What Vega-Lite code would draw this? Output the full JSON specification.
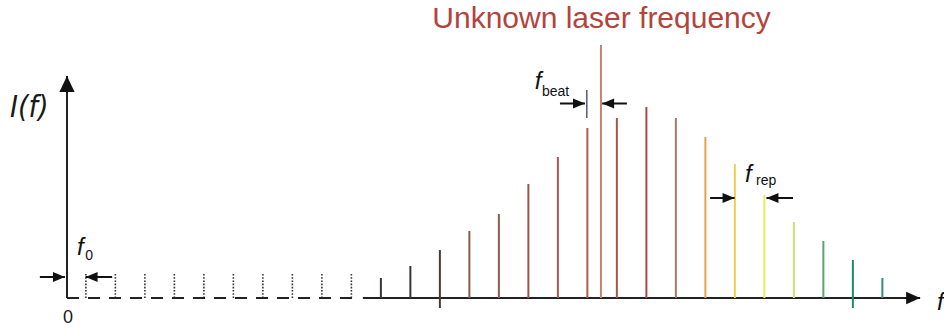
{
  "$schema": "https://vega.github.io/schema/vega-lite/v6.json",
  "width": 944,
  "height": 331,
  "autosize": {"type": "none"},
  "padding": 0,
  "background": "white",
  "config": {"view": {"stroke": null}},
  "datasets": {
    "comb": [
      {"n": 0, "freq": 0.64, "level": 0, "level2": 25},
      {"n": 1, "freq": 1.64, "level": 0, "level2": 25},
      {"n": 2, "freq": 2.64, "level": 0, "level2": 25},
      {"n": 3, "freq": 3.64, "level": 0, "level2": 25},
      {"n": 4, "freq": 4.64, "level": 0, "level2": 25},
      {"n": 5, "freq": 5.64, "level": 0, "level2": 25},
      {"n": 6, "freq": 6.64, "level": 0, "level2": 25},
      {"n": 7, "freq": 7.64, "level": 0, "level2": 25},
      {"n": 8, "freq": 8.64, "level": 0, "level2": 25},
      {"n": 9, "freq": 9.64, "level": 0, "level2": 25},
      {"n": 10, "freq": 10.64, "level": 0, "level2": 20},
      {"n": 11, "freq": 11.64, "level": 0, "level2": 32},
      {"n": 12, "freq": 12.64, "level": -10, "level2": 48},
      {"n": 13, "freq": 13.64, "level": 0, "level2": 67},
      {"n": 14, "freq": 14.64, "level": 0, "level2": 84},
      {"n": 15, "freq": 15.64, "level": 0, "level2": 114},
      {"n": 16, "freq": 16.64, "level": 0, "level2": 141},
      {"n": 17, "freq": 17.64, "level": 0, "level2": 170},
      {"n": 18, "freq": 18.64, "level": 0, "level2": 180},
      {"n": 19, "freq": 19.64, "level": 0, "level2": 191},
      {"n": 20, "freq": 20.64, "level": 0, "level2": 180},
      {"n": 21, "freq": 21.64, "level": 0, "level2": 161},
      {"n": 22, "freq": 22.64, "level": 0, "level2": 134},
      {"n": 23, "freq": 23.64, "level": 0, "level2": 103},
      {"n": 24, "freq": 24.64, "level": 0, "level2": 76},
      {"n": 25, "freq": 25.64, "level": 0, "level2": 57},
      {"n": 26, "freq": 26.64, "level": -10, "level2": 38},
      {"n": 27, "freq": 27.64, "level": 0, "level2": 20}
    ],
    "laser": [
      {"name": "unknown laser", "freq": 18.1, "level": 0, "level2": 253}
    ],
    "axes": [
      {"part": "baseline-dashed", "freq": 0, "freq2": 9.66, "level": 0, "level2": 0},
      {"part": "baseline", "freq": 10.03, "freq2": 28.45, "level": 0, "level2": 0},
      {"part": "intensity", "freq": 0, "freq2": 0, "level": 0, "level2": 208},
      {"part": "beat-marker", "freq": 17.62, "freq2": 17.62, "level": 180, "level2": 208}
    ],
    "arrows": [
      {"id": "f0-in", "dir": "right", "freq": -0.92, "freq2": -0.07, "level": 21, "level2": 21},
      {"id": "f0-out", "dir": "left", "freq": 1.53, "freq2": 0.63, "level": 21, "level2": 21},
      {"id": "beat-in", "dir": "right", "freq": 16.71, "freq2": 17.56, "level": 194.5, "level2": 194.5},
      {"id": "beat-out", "dir": "left", "freq": 18.98, "freq2": 18.14, "level": 194.5, "level2": 194.5},
      {"id": "rep-in", "dir": "right", "freq": 21.8, "freq2": 22.63, "level": 100, "level2": 100},
      {"id": "rep-out", "dir": "left", "freq": 24.61, "freq2": 23.71, "level": 100, "level2": 100},
      {"id": "f-axis", "dir": "axis-right", "freq": 28.4, "freq2": 28.92, "level": 0, "level2": 0},
      {"id": "I-axis", "dir": "axis-up", "freq": 0, "freq2": 0, "level": 205, "level2": 222}
    ],
    "labels": [
      {"kind": "title", "text": "Unknown laser frequency", "freq": 18.12, "level": 270},
      {"kind": "axisname", "text": "I(f)", "freq": -1.93, "level": 181},
      {"kind": "origin", "text": "0", "freq": 0.03, "level": -25},
      {"kind": "sym", "text": "f", "freq": 0.34, "level": 43},
      {"kind": "sub", "text": "0", "freq": 0.62, "level": 38},
      {"kind": "sym", "text": "f", "freq": 15.86, "level": 209},
      {"kind": "sub", "text": "beat", "freq": 16.1, "level": 202},
      {"kind": "sym", "text": "f", "freq": 22.98, "level": 116},
      {"kind": "sub", "text": "rep", "freq": 23.36, "level": 113},
      {"kind": "axislabel", "text": "f", "freq": 29.49, "level": -12}
    ]
  },
  "encoding": {
    "x": {"field": "freq", "type": "quantitative", "axis": null,
          "scale": {"domain": [-2.271, 29.729], "nice": false, "zero": false}},
    "y": {"field": "level", "type": "quantitative", "axis": null,
          "scale": {"domain": [-33, 298], "nice": false, "zero": false}}
  },
  "layer": [
    {
      "data": {"name": "comb"},
      "transform": [{"filter": "datum.n < 10"}],
      "mark": {"type": "rule", "color": "#333333", "strokeWidth": 1.6, "strokeDash": [1.6, 1.6]},
      "encoding": {"y2": {"field": "level2"}}
    },
    {
      "data": {"name": "axes"},
      "transform": [{"filter": "datum.part === 'baseline-dashed'"}],
      "mark": {"type": "rule", "color": "#222222", "strokeWidth": 2, "strokeDash": [12, 9]},
      "encoding": {"x2": {"field": "freq2"}, "y2": {"field": "level2"}}
    },
    {
      "data": {"name": "axes"},
      "transform": [{"filter": "datum.part === 'baseline' || datum.part === 'intensity'"}],
      "mark": {"type": "rule", "color": "#222222", "strokeWidth": 2},
      "encoding": {"x2": {"field": "freq2"}, "y2": {"field": "level2"}}
    },
    {
      "data": {"name": "comb"},
      "transform": [{"filter": "datum.n >= 10"}],
      "mark": {"type": "rule", "strokeWidth": 2},
      "encoding": {
        "y2": {"field": "level2"},
        "color": {
          "field": "n", "type": "ordinal", "legend": null,
          "scale": {
            "domain": [10, 11, 12, 13, 14, 15, 16, 17, 18, 19, 20, 21, 22, 23, 24, 25, 26, 27],
            "range": ["#3b3434", "#3b3434", "#4d3838", "#8c5a4c", "#94584a", "#9a5446", "#a45a4c", "#ad5a4c",
                      "#a8554a", "#b24545", "#a07a6a", "#e8a050", "#ecd050", "#eee860", "#cfe07a", "#5aa66a",
                      "#1f8a66", "#2a9080"]
          }
        }
      }
    },
    {
      "data": {"name": "laser"},
      "mark": {"type": "rule", "color": "#c98070", "strokeWidth": 2},
      "encoding": {"y2": {"field": "level2"}}
    },
    {
      "data": {"name": "axes"},
      "transform": [{"filter": "datum.part === 'beat-marker'"}],
      "mark": {"type": "rule", "color": "#5f6570", "strokeWidth": 1.6},
      "encoding": {"x2": {"field": "freq2"}, "y2": {"field": "level2"}}
    },
    {
      "data": {"name": "arrows"},
      "mark": {"type": "rule", "color": "#111111", "strokeWidth": 2},
      "encoding": {"x2": {"field": "freq2"}, "y2": {"field": "level2"}}
    },
    {
      "data": {"name": "arrows"},
      "transform": [{"filter": "datum.dir === 'right'"}],
      "mark": {"type": "point", "filled": true, "color": "#111111", "opacity": 1, "size": 144,
               "shape": "M0,0L-2,-0.85L-2,0.85Z"},
      "encoding": {"x": {"field": "freq2", "type": "quantitative"}, "y": {"field": "level2", "type": "quantitative"}}
    },
    {
      "data": {"name": "arrows"},
      "transform": [{"filter": "datum.dir === 'left'"}],
      "mark": {"type": "point", "filled": true, "color": "#111111", "opacity": 1, "size": 144,
               "shape": "M0,0L2,-0.85L2,0.85Z"},
      "encoding": {"x": {"field": "freq2", "type": "quantitative"}, "y": {"field": "level2", "type": "quantitative"}}
    },
    {
      "data": {"name": "arrows"},
      "transform": [{"filter": "datum.dir === 'axis-right'"}],
      "mark": {"type": "point", "filled": true, "color": "#111111", "opacity": 1, "size": 196,
               "shape": "M0,0L-2,-0.9L-2,0.9Z"},
      "encoding": {"x": {"field": "freq2", "type": "quantitative"}, "y": {"field": "level2", "type": "quantitative"}}
    },
    {
      "data": {"name": "arrows"},
      "transform": [{"filter": "datum.dir === 'axis-up'"}],
      "mark": {"type": "point", "filled": true, "color": "#111111", "opacity": 1, "size": 256,
               "shape": "M0,0L-0.95,2L0.95,2Z"},
      "encoding": {"x": {"field": "freq2", "type": "quantitative"}, "y": {"field": "level2", "type": "quantitative"}}
    },
    {
      "data": {"name": "labels"},
      "transform": [{"filter": "datum.kind === 'title'"}],
      "mark": {"type": "text", "font": "Liberation Sans", "fontSize": 30, "color": "#b3443c",
               "align": "center", "baseline": "alphabetic"},
      "encoding": {"text": {"field": "text"}}
    },
    {
      "data": {"name": "labels"},
      "transform": [{"filter": "datum.kind === 'axisname'"}],
      "mark": {"type": "text", "font": "Liberation Sans Narrow, DejaVu Sans Condensed, Liberation Sans", "fontSize": 30,
               "fontStyle": "italic", "color": "#1a1a1a", "align": "left", "baseline": "alphabetic"},
      "encoding": {"text": {"field": "text"}}
    },
    {
      "data": {"name": "labels"},
      "transform": [{"filter": "datum.kind === 'origin'"}],
      "mark": {"type": "text", "font": "Liberation Sans", "fontSize": 18, "color": "#1a1a1a",
               "align": "center", "baseline": "alphabetic"},
      "encoding": {"text": {"field": "text"}}
    },
    {
      "data": {"name": "labels"},
      "transform": [{"filter": "datum.kind === 'sym' || datum.kind === 'axislabel'"}],
      "mark": {"type": "text", "font": "Liberation Sans", "fontSize": 24, "fontStyle": "italic",
               "color": "#111111", "align": "left", "baseline": "alphabetic"},
      "encoding": {"text": {"field": "text"}}
    },
    {
      "data": {"name": "labels"},
      "transform": [{"filter": "datum.kind === 'sub'"}],
      "mark": {"type": "text", "font": "Liberation Sans", "fontSize": 14,
               "color": "#111111", "align": "left", "baseline": "alphabetic"},
      "encoding": {"text": {"field": "text"}}
    }
  ]
}
